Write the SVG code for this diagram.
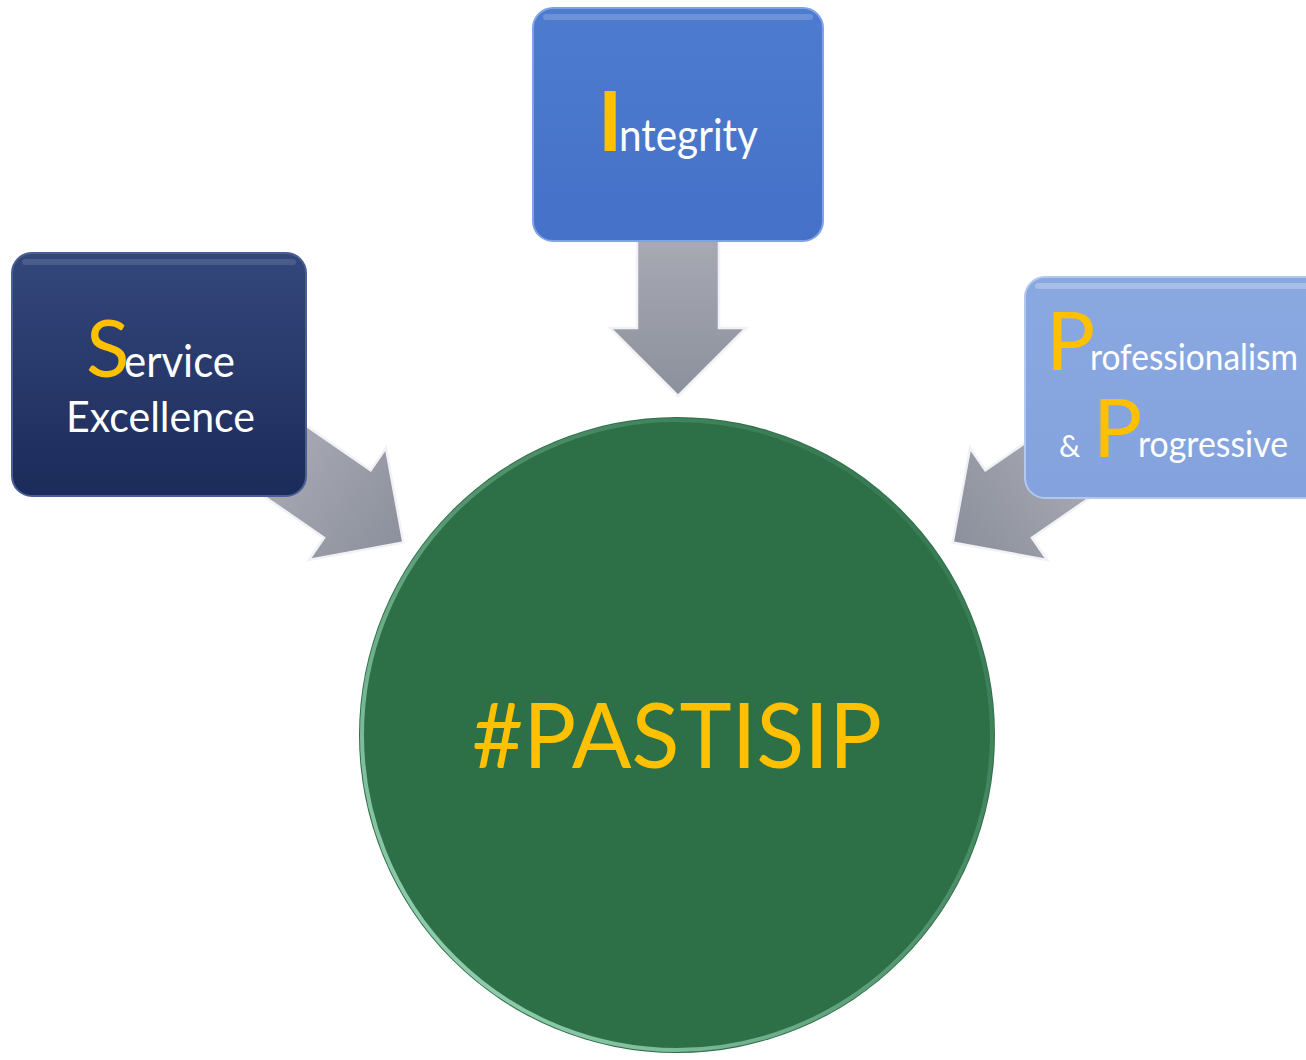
<svg xmlns="http://www.w3.org/2000/svg" width="1306" height="1060" viewBox="0 0 1306 1060">
<defs>
<style>
.lbl{font-family:Lato,"Open Sans","Liberation Sans",sans-serif;fill:#FFFFFF}
.hl{fill:#FFC000}
.arrow{stroke:#F2F2F6;stroke-width:2.5;stroke-linejoin:miter}
.box{stroke-width:2}
</style>
<linearGradient id="gArrow" x1="0" y1="0" x2="1" y2="0">
<stop offset="0" stop-color="#B4B6BE"/>
<stop offset="1" stop-color="#8C909C"/>
</linearGradient>
<linearGradient id="gNavy" x1="0" y1="0" x2="0" y2="1">
<stop offset="0" stop-color="#34477B"/>
<stop offset="1" stop-color="#1B2B5A"/>
</linearGradient>
<linearGradient id="gBlue" x1="0" y1="0" x2="0" y2="1">
<stop offset="0" stop-color="#4D7BCF"/>
<stop offset="1" stop-color="#4572C8"/>
</linearGradient>
<linearGradient id="gLight" x1="0" y1="0" x2="0" y2="1">
<stop offset="0" stop-color="#8AA8E0"/>
<stop offset="1" stop-color="#84A2DD"/>
</linearGradient>
<linearGradient id="gRim" x1="1" y1="0" x2="0" y2="1">
<stop offset="0" stop-color="#9FE0C0" stop-opacity="0"/>
<stop offset="0.5" stop-color="#9FE0C0" stop-opacity="0.35"/>
<stop offset="1" stop-color="#B8F0D4" stop-opacity="0.9"/>
</linearGradient>
<path id="arrowShape" d="M0,-41 L162,-41 L162,-68 L230,0 L162,68 L162,41 L0,41 Z"/>
</defs>
<rect width="1306" height="1060" fill="#FFFFFF"/>

<g id="connectors">
<g transform="translate(678,166) rotate(90)">
<use href="#arrowShape" class="arrow" fill="url(#gArrow)"/>
</g>
<g transform="translate(214,412) rotate(34.6)">
<use href="#arrowShape" class="arrow" fill="url(#gArrow)"/>
</g>
<g transform="translate(1142,412) rotate(145.4)">
<use href="#arrowShape" class="arrow" fill="url(#gArrow)"/>
</g>
</g>

<g id="node-service">
<rect x="12" y="253" width="294" height="243" rx="20" fill="url(#gNavy)" stroke="#4A5E94" class="box"/>
<rect x="22" y="259" width="274" height="6" rx="3" fill="#FFFFFF" opacity="0.12"/>
<text class="lbl hl" x="86" y="377" font-size="80">S</text>
<text class="lbl" x="124" y="377" font-size="45" textLength="111" lengthAdjust="spacingAndGlyphs">ervice</text>
<text class="lbl" x="66" y="432" font-size="42" textLength="189" lengthAdjust="spacingAndGlyphs">Excellence</text>
</g>

<g id="node-integrity">
<rect x="533" y="8" width="290" height="233" rx="20" fill="url(#gBlue)" stroke="#7FA3E4" class="box"/>
<rect x="543" y="14" width="270" height="6" rx="3" fill="#FFFFFF" opacity="0.18"/>
<text class="lbl hl" x="598" y="151" font-size="82" font-weight="bold">I</text>
<text class="lbl" x="619" y="151" font-size="45" textLength="139" lengthAdjust="spacingAndGlyphs">ntegrity</text>
</g>

<g id="node-professionalism">
<rect x="1025" y="277" width="300" height="221" rx="20" fill="url(#gLight)" stroke="#B3C8F0" class="box"/>
<rect x="1035" y="283" width="280" height="6" rx="3" fill="#FFFFFF" opacity="0.25"/>
<text class="lbl hl" x="1046" y="370" font-size="82">P</text>
<text class="lbl" x="1090" y="370" font-size="37" textLength="208" lengthAdjust="spacingAndGlyphs">rofessionalism</text>
<text class="lbl" x="1059" y="457" font-size="30">&amp;</text>
<text class="lbl hl" x="1093" y="457" font-size="82">P</text>
<text class="lbl" x="1138" y="457" font-size="37" textLength="150" lengthAdjust="spacingAndGlyphs">rogressive</text>
</g>

<g id="node-pastisip">
<circle cx="677" cy="735" r="318" fill="#2D6F47"/>
<circle cx="677" cy="735" r="315" fill="none" stroke="url(#gRim)" stroke-width="4"/>
<text x="472" y="768" font-family="Lato,'Open Sans','Liberation Sans',sans-serif" font-size="92" fill="#FFC000" textLength="410" lengthAdjust="spacingAndGlyphs">#PASTISIP</text>
</g>
</svg>
